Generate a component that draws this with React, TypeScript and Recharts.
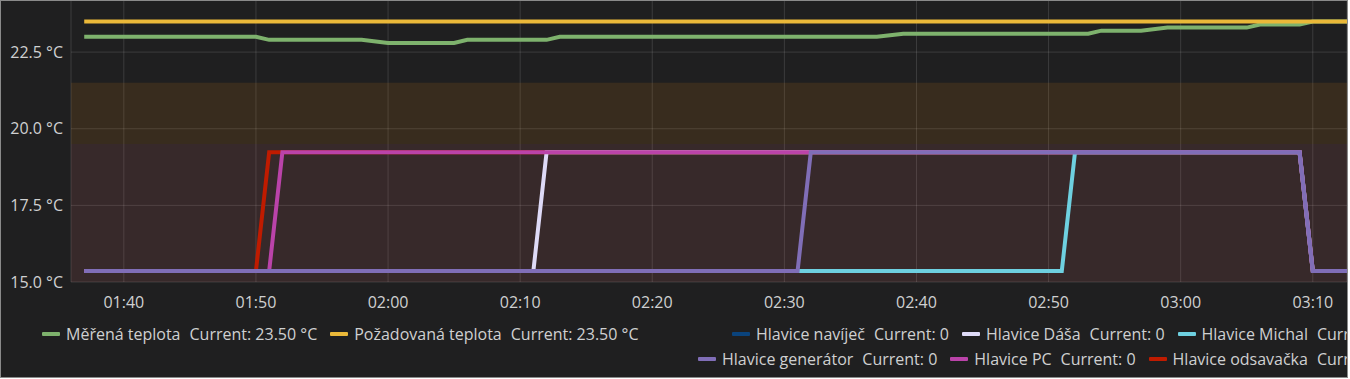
import { CartesianGrid, Line, LineChart, ReferenceArea, XAxis, YAxis } from 'recharts';

// Grafana-style panel: two temperature series on the left axis,
// six valve heads (0/1) on a hidden right axis.
type Point = [string, number];

const mereneTeplota: Point[] = [
  ['01:37', 23.0], ['01:50', 23.0], ['01:51', 22.9], ['01:58', 22.9],
  ['02:00', 22.8], ['02:05', 22.8], ['02:06', 22.9], ['02:12', 22.9],
  ['02:13', 23.0], ['02:37', 23.0], ['02:39', 23.1], ['02:53', 23.1],
  ['02:54', 23.2], ['02:57', 23.2], ['02:59', 23.3], ['03:05', 23.3],
  ['03:06', 23.4], ['03:09', 23.4], ['03:10', 23.5], ['03:13', 23.5],
];
const pozadovanaTeplota: Point[] = [['01:37', 23.5], ['03:13', 23.5]];

// navíječ draws nothing visible in this window
const hlaviceNavijec: Point[] = [];
const hlaviceDasa: Point[] = [
  ['01:37', 0], ['02:11', 0], ['02:12', 1], ['03:09', 1], ['03:10', 0], ['03:13', 0],
];
const hlaviceMichal: Point[] = [
  ['01:37', 0], ['02:51', 0], ['02:52', 1], ['03:09', 1], ['03:10', 0], ['03:13', 0],
];
const hlaviceGenerator: Point[] = [
  ['01:37', 0], ['02:31', 0], ['02:32', 1], ['03:09', 1], ['03:10', 0], ['03:13', 0],
];
const hlavicePC: Point[] = [
  ['01:37', 0], ['01:51', 0], ['01:52', 1], ['03:09', 1], ['03:10', 0], ['03:13', 0],
];
const hlaviceOdsavacka: Point[] = [
  ['01:37', 0], ['01:50', 0], ['01:51', 1], ['03:09', 1], ['03:10', 0], ['03:13', 0],
];

const xTickLabels = ['01:40', '01:50', '02:00', '02:10', '02:20', '02:30', '02:40', '02:50', '03:00', '03:10'];
const yTicks = [15, 17.5, 20, 22.5];

const FONT = '"Open Sans", "Noto Sans", sans-serif';
const TEXT = '#cfd0d1';

const toMin = (s: string) => {
  const [h, m] = s.split(':').map(Number);
  return h * 60 + m;
};
const fmtMin = (v: number) => {
  const h = Math.floor(v / 60);
  const m = Math.round(v % 60);
  return `${String(h).padStart(2, '0')}:${String(m).padStart(2, '0')}`;
};
const rows = (pts: Point[]) => pts.map(([t, v]) => ({ t: toMin(t), v }));

interface Series {
  name: string;
  color: string;
  points: Point[];
  axis: 'left' | 'right';
}

const temps: Series[] = [
  { name: 'Měřená teplota', color: '#7EB26D', points: mereneTeplota, axis: 'left' },
  { name: 'Požadovaná teplota', color: '#EAB839', points: pozadovanaTeplota, axis: 'left' },
];
const navijec: Series = { name: 'Hlavice navíječ', color: '#0A437C', points: hlaviceNavijec, axis: 'right' };
const dasa: Series = { name: 'Hlavice Dáša', color: '#DEDAF7', points: hlaviceDasa, axis: 'right' };
const michal: Series = { name: 'Hlavice Michal', color: '#6ED0E0', points: hlaviceMichal, axis: 'right' };
const generator: Series = { name: 'Hlavice generátor', color: '#806EB7', points: hlaviceGenerator, axis: 'right' };
const pc: Series = { name: 'Hlavice PC', color: '#BA43A9', points: hlavicePC, axis: 'right' };
const odsavacka: Series = { name: 'Hlavice odsavačka', color: '#BF1B00', points: hlaviceOdsavacka, axis: 'right' };

// bottom-to-top paint order
const drawOrder: Series[] = [navijec, odsavacka, dasa, michal, pc, generator, ...temps];

const current = (s: Series) => {
  const last = s.points.length ? s.points[s.points.length - 1][1] : 0;
  return s.axis === 'left' ? `${last.toFixed(2)} °C` : String(last);
};

function LegendRow({ items, left, top }: { items: Series[]; left: number; top: number }) {
  return (
    <div
      style={{
        position: 'absolute', left: left - 1, top: top - 1, display: 'flex',
        alignItems: 'center', whiteSpace: 'nowrap', fontSize: 16, lineHeight: '20px', color: TEXT,
      }}
    >
      {items.map((s) => (
        <div key={s.name} style={{ display: 'flex', alignItems: 'center', marginRight: 13 }}>
          <span style={{ width: 18, height: 4, borderRadius: 1, background: s.color, marginRight: 6 }} />
          <span>{s.name}</span>
          <span style={{ marginLeft: 9 }}>Current: {current(s)}</span>
        </div>
      ))}
    </div>
  );
}

export default function App() {
  return (
    <div
      style={{
        position: 'absolute', left: 0, top: 0, width: 1348, height: 378, boxSizing: 'border-box',
        border: '1px solid #8a8a8a', background: '#1f1f20', overflow: 'hidden', fontFamily: FONT,
      }}
    >
      <div style={{ position: 'absolute', left: -1, top: -1 }}>
        <LineChart width={1347} height={320} margin={{ top: 0, right: 0, bottom: 0, left: 0 }}>
          <ReferenceArea yAxisId="left" y1={19.5} y2={21.5} fill="rgb(235,138,14)" fillOpacity={0.12} stroke="none" />
          <ReferenceArea yAxisId="left" y1={15} y2={19.5} fill="rgb(234,112,112)" fillOpacity={0.12} stroke="none" />
          <CartesianGrid yAxisId="left" stroke="#ffffff" strokeOpacity={0.13} />
          <XAxis
            dataKey="t"
            type="number"
            domain={[96, 192.59]}
            allowDataOverflow
            ticks={xTickLabels.map(toMin)}
            tickFormatter={fmtMin}
            interval={0}
            axisLine={false}
            tickLine={false}
            tickSize={0}
            tickMargin={15}
            height={38}
            tick={{ fill: TEXT, fontSize: 16, fontFamily: FONT }}
          />
          <YAxis
            yAxisId="left"
            width={71}
            domain={[15, 24.2]}
            allowDataOverflow
            ticks={yTicks}
            tickFormatter={(v: number) => `${v.toFixed(1)} °C`}
            axisLine={false}
            tickLine={false}
            tickSize={0}
            tickMargin={8}
            tick={{ fill: TEXT, fontSize: 16, fontFamily: FONT }}
          />
          <YAxis yAxisId="right" orientation="right" hide domain={[-0.093, 2.283]} allowDataOverflow />
          {drawOrder.map((s) => (
            <Line
              key={s.name}
              data={rows(s.points)}
              dataKey="v"
              yAxisId={s.axis}
              type="linear"
              stroke={s.color}
              strokeWidth={4}
              dot={false}
              activeDot={false}
              isAnimationActive={false}
            />
          ))}
        </LineChart>
      </div>
      <LegendRow items={temps} left={42} top={324} />
      <LegendRow items={[navijec, dasa, michal]} left={732} top={324} />
      <LegendRow items={[generator, pc, odsavacka]} left={698} top={349} />
    </div>
  );
}
